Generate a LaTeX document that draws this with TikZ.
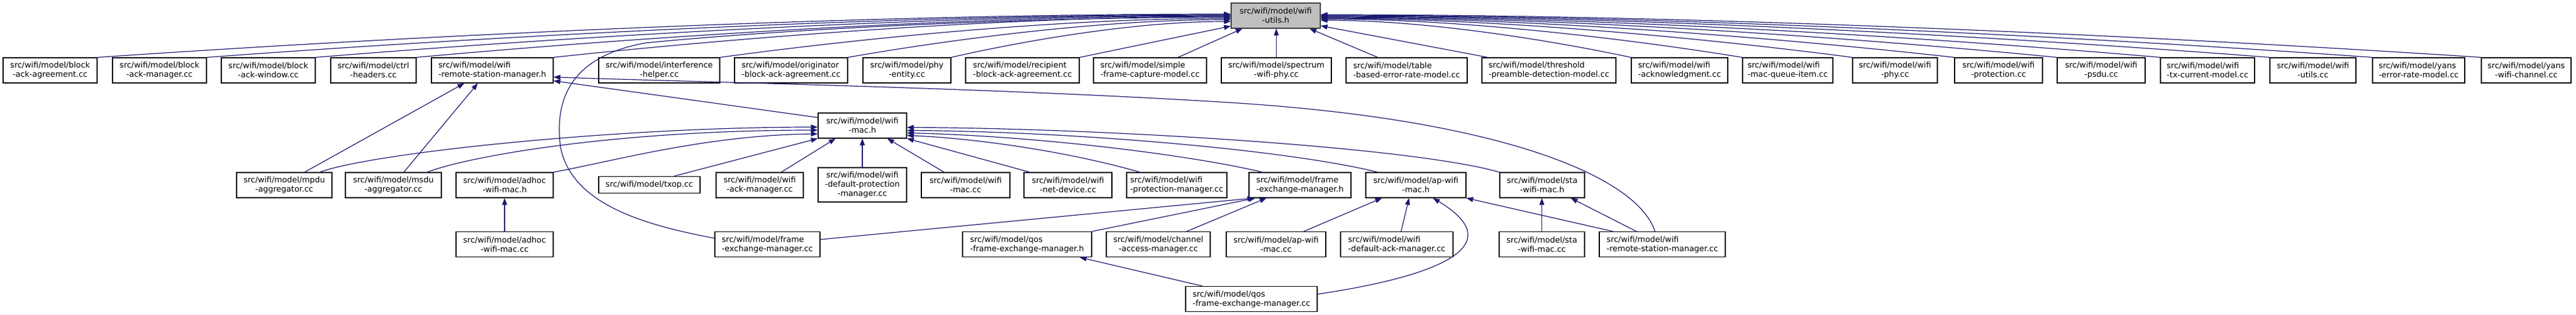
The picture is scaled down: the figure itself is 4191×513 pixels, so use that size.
\documentclass[tikz,border=0pt]{standalone}
\usepackage{fontspec}
\setmainfont{DejaVu Sans}
\usetikzlibrary{arrows.meta,calc}
\definecolor{mblue}{HTML}{191970}
\definecolor{rootgray}{HTML}{BFBFBF}
\definecolor{rootdraw}{HTML}{404040}
\tikzset{
  box/.style={draw=black, line width=1.2pt, fill=white, inner sep=0pt, align=center,
    font=\fontsize{13}{15}\selectfont},
  lbox/.style={box, align=left},
  rootbox/.style={box, fill=rootgray, draw=rootdraw},
  dep/.style={draw=mblue, line width=1.2pt, -{Triangle[length=11pt,width=8pt]}}
}
\begin{document}
\begin{tikzpicture}[x=1pt,y=-1pt]
\useasboundingbox (0,0) rectangle (4191,513);
% root
\node[rootbox, minimum width=145pt, minimum height=41pt] (root) at (2075.5,25.5) {src/wifi/model/wifi\\-utils.h};
% top row
\node[box, minimum width=153pt, minimum height=41pt] (bagr) at (81.5,114.5) {src/wifi/model/block\\-ack-agreement.cc};
\node[box, minimum width=153pt, minimum height=41pt] (bamg) at (259.5,114.5) {src/wifi/model/block\\-ack-manager.cc};
\node[box, minimum width=153pt, minimum height=41pt] (bawin) at (436.5,114.5) {src/wifi/model/block\\-ack-window.cc};
\node[box, minimum width=139pt, minimum height=41pt] (ctrl) at (607.5,114.5) {src/wifi/model/ctrl\\-headers.cc};
\node[lbox, minimum width=198pt, minimum height=41pt] (rsmh) at (801,114.5) {src/wifi/model/wifi\\-remote-station-manager.h};
\node[box, minimum width=197pt, minimum height=41pt] (interf) at (1072.5,114.5) {src/wifi/model/interference\\-helper.cc};
\node[lbox, minimum width=184pt, minimum height=41pt] (orig) at (1287,114.5) {src/wifi/model/originator\\-block-ack-agreement.cc};
\node[box, minimum width=143pt, minimum height=41pt] (phy) at (1475.5,114.5) {src/wifi/model/phy\\-entity.cc};
\node[lbox, minimum width=185pt, minimum height=41pt] (recip) at (1663.5,114.5) {src/wifi/model/recipient\\-block-ack-agreement.cc};
\node[lbox, minimum width=184pt, minimum height=41pt] (simple) at (1871,114.5) {src/wifi/model/simple\\-frame-capture-model.cc};
\node[box, minimum width=179pt, minimum height=41pt] (spectrum) at (2076.5,114.5) {src/wifi/model/spectrum\\-wifi-phy.cc};
\node[lbox, minimum width=197pt, minimum height=41pt] (table) at (2288.5,114.5) {src/wifi/model/table\\-based-error-rate-model.cc};
\node[lbox, minimum width=218pt, minimum height=41pt] (thresh) at (2520,114.5) {src/wifi/model/threshold\\-preamble-detection-model.cc};
\node[lbox, minimum width=157pt, minimum height=41pt] (ackn) at (2732.5,114.5) {src/wifi/model/wifi\\-acknowledgment.cc};
\node[lbox, minimum width=147pt, minimum height=41pt] (mqi) at (2908.5,114.5) {src/wifi/model/wifi\\-mac-queue-item.cc};
\node[box, minimum width=138pt, minimum height=41pt] (wphy) at (3083,114.5) {src/wifi/model/wifi\\-phy.cc};
\node[box, minimum width=143pt, minimum height=41pt] (wprot) at (3251.5,114.5) {src/wifi/model/wifi\\-protection.cc};
\node[box, minimum width=143pt, minimum height=41pt] (psdu) at (3418.5,114.5) {src/wifi/model/wifi\\-psdu.cc};
\node[lbox, minimum width=153pt, minimum height=41pt] (txcur) at (3591.5,114.5) {src/wifi/model/wifi\\-tx-current-model.cc};
\node[box, minimum width=140pt, minimum height=41pt] (wutil) at (3763,114.5) {src/wifi/model/wifi\\-utils.cc};
\node[lbox, minimum width=150pt, minimum height=41pt] (yerr) at (3935,114.5) {src/wifi/model/yans\\-error-rate-model.cc};
\node[box, minimum width=146pt, minimum height=41pt] (ychan) at (4110,114.5) {src/wifi/model/yans\\-wifi-channel.cc};
% wifi-mac.h
\node[box, minimum width=144pt, minimum height=41pt] (wmh) at (1403,204.5) {src/wifi/model/wifi\\-mac.h};
% row 3
\node[box, minimum width=155pt, minimum height=41pt] (mpdu) at (462.5,301.5) {src/wifi/model/mpdu\\-aggregator.cc};
\node[box, minimum width=156pt, minimum height=41pt] (msdu) at (640,301.5) {src/wifi/model/msdu\\-aggregator.cc};
\node[box, minimum width=158pt, minimum height=41pt] (adhocH) at (821,301.5) {src/wifi/model/adhoc\\-wifi-mac.h};
\node[box, minimum width=165pt, minimum height=27pt] (txop) at (1056.5,301) {src/wifi/model/txop.cc};
\node[box, minimum width=142pt, minimum height=41pt] (ackmgr) at (1236,301.5) {src/wifi/model/wifi\\-ack-manager.cc};
\node[box, minimum width=144pt, minimum height=56pt] (defprot) at (1403,301) {src/wifi/model/wifi\\-default-protection\\-manager.cc};
\node[box, minimum width=144pt, minimum height=41pt] (wmaccc) at (1571,301.5) {src/wifi/model/wifi\\-mac.cc};
\node[box, minimum width=143pt, minimum height=41pt] (netdev) at (1737.5,301.5) {src/wifi/model/wifi\\-net-device.cc};
\node[lbox, minimum width=163pt, minimum height=41pt] (protmgr) at (1914.5,301.5) {src/wifi/model/wifi\\-protection-manager.cc};
\node[lbox, minimum width=166pt, minimum height=41pt] (femh) at (2115,301.5) {src/wifi/model/frame\\-exchange-manager.h};
\node[box, minimum width=163pt, minimum height=41pt] (apmach) at (2303.5,301.5) {src/wifi/model/ap-wifi\\-mac.h};
\node[box, minimum width=138pt, minimum height=41pt] (stamach) at (2509,301.5) {src/wifi/model/sta\\-wifi-mac.h};
% row 4
\node[box, minimum width=158pt, minimum height=41pt] (adhocCC) at (821,398) {src/wifi/model/adhoc\\-wifi-mac.cc};
\node[lbox, minimum width=171pt, minimum height=41pt] (femcc) at (1248.5,398) {src/wifi/model/frame\\-exchange-manager.cc};
\node[lbox, minimum width=210pt, minimum height=41pt] (qosfemh) at (1671,398) {src/wifi/model/qos\\-frame-exchange-manager.h};
\node[box, minimum width=169pt, minimum height=41pt] (chacc) at (1884.5,398) {src/wifi/model/channel\\-access-manager.cc};
\node[box, minimum width=162pt, minimum height=41pt] (apmaccc) at (2076,398) {src/wifi/model/ap-wifi\\-mac.cc};
\node[lbox, minimum width=183pt, minimum height=41pt] (defack) at (2272.5,398) {src/wifi/model/wifi\\-default-ack-manager.cc};
\node[box, minimum width=139pt, minimum height=41pt] (stamaccc) at (2508.5,398) {src/wifi/model/sta\\-wifi-mac.cc};
\node[lbox, minimum width=205pt, minimum height=41pt] (rsmcc) at (2704.5,398) {src/wifi/model/wifi\\-remote-station-manager.cc};
% row 5
\node[lbox, minimum width=214pt, minimum height=41pt] (qosfemcc) at (2036,487) {src/wifi/model/qos\\-frame-exchange-manager.cc};

% ---- edges to root (left side)
\draw[dep] (bagr.north east) .. controls (619,62) and (1357,23) .. ($(root.west)+(0,-2.5)$);
\draw[dep] (bamg.north east) .. controls (753,62.5) and (1420,24) .. ($(root.west)+(0,-1.5)$);
\draw[dep] (bawin.north east) .. controls (886,63) and (1482,25) .. ($(root.west)+(0,-0.5)$);
\draw[dep] (ctrl.north east) .. controls (1009,63.4) and (1539,26) .. ($(root.west)+(0,0.5)$);
\draw[dep] (rsmh.north east) .. controls (1176,63.9) and (1617,27) .. ($(root.west)+(0,1.5)$);
\draw[dep] ($(femcc.west)+(0,-10)$) .. controls (1040,365) and (930,330) .. (912,240)
   .. controls (900,150) and (940,90) .. (1050,70)
   .. controls (1300,45) and (1700,28) .. ($(root.west)+(0,2.5)$);
\draw[dep] (interf.north east) .. controls (1379,65.2) and (1712,30) .. ($(root.west)+(0,4.5)$);
\draw[dep] (orig.north east) .. controls (1535,66.1) and (1785,32) .. ($(root.west)+(0,6.5)$);
\draw[dep] (phy.north east) .. controls (1661,67.5) and (1843,35) .. ($(root.west)+(0,9.5)$);
\draw[dep] (recip.north east) -- ($(root.west)+(0,17)$);
\draw[dep] ($(simple.north east)+(-47,0)$) -- ($(root.south west)+(19,0)$);
\draw[dep] (spectrum.north) -- (spectrum.north |- root.south);
% ---- edges to root (right side)
\draw[dep] ($(table.north west)+(52,0)$) -- ($(root.south east)+(-18,0)$);
\draw[dep] ($(thresh.north west)+(10,0)$) -- ($(root.east)+(0,16.5)$);
\draw[dep] (ackn.north west) .. controls (2527,66.6) and (2325,33) .. ($(root.east)+(0,7.5)$);
\draw[dep] (mqi.north west) .. controls (2663,65.6) and (2388,31) .. ($(root.east)+(0,5.5)$);
\draw[dep] (wphy.north west) .. controls (2798,65.2) and (2451,30) .. ($(root.east)+(0,4.5)$);
\draw[dep] (wprot.north west) .. controls (2922,64.8) and (2509,29) .. ($(root.east)+(0,3.5)$);
\draw[dep] (psdu.north west) .. controls (3047,64.3) and (2568,28) .. ($(root.east)+(0,2.5)$);
\draw[dep] (txcur.north west) .. controls (3173,63.9) and (2626,27) .. ($(root.east)+(0,1.5)$);
\draw[dep] (wutil.north west) .. controls (3307,63.4) and (2689,26) .. ($(root.east)+(0,0.5)$);
\draw[dep] (yerr.north west) .. controls (3432,63) and (2747,25) .. ($(root.east)+(0,-0.5)$);
\draw[dep] (ychan.north west) .. controls (3565,62.5) and (2809,24) .. ($(root.east)+(0,-1.5)$);

% ---- edges to wifi-remote-station-manager.h
\draw[dep] ($(mpdu.north)+(33,0)$) -- ($(rsmh.south west)+(54,0)$);
\draw[dep] ($(msdu.north)+(17,0)$) -- ($(rsmh.south west)+(76,0)$);
\draw[dep] ($(wmh.north west)+(0,8)$) -- ($(rsmh.south east)+(0,-4)$);
\draw[dep] ($(rsmcc.north)+(-12,0)$) .. controls (2665,290) and (2450,195) .. (2000,167)
   .. controls (1600,142) and (1100,133) .. ($(rsmh.east)+(0,11)$);

% ---- edges to wifi-mac.h
\draw[dep] ($(mpdu.north)+(58,0)$) .. controls (600,250) and (1000,207) .. ($(wmh.west)+(0,2.5)$);
\draw[dep] ($(msdu.north)+(55,0)$) .. controls (760,255) and (1000,212) .. ($(wmh.west)+(0,7.5)$);
\draw[dep] (adhocH.north east) .. controls (1000,262) and (1150,220) .. ($(wmh.west)+(0,13.5)$);
\draw[dep] ($(txop.north)+(40,0)$) -- (wmh.south west);
\draw[dep] ($(ackmgr.north)+(35,0)$) -- ($(wmh.south west)+(29,0)$);
\draw[dep] (defprot.north) -- (wmh.south);
\draw[dep] ($(wmaccc.north)+(-35,0)$) -- ($(wmh.south east)+(-32,0)$);
\draw[dep] ($(netdev.north west)+(10,0)$) -- (wmh.south east);
\draw[dep] ($(protmgr.north)+(-60,0)$) .. controls (1750,250) and (1600,226) .. ($(wmh.east)+(0,16)$);
\draw[dep] ($(femh.north west)+(22,0)$) .. controls (1950,255) and (1700,222) .. ($(wmh.east)+(0,12)$);
\draw[dep] ($(apmach.north west)+(20,0)$) .. controls (2100,245) and (1750,214) .. ($(wmh.east)+(0,8)$);
\draw[dep] (stamach.north west) .. controls (2300,240) and (1800,209) .. ($(wmh.east)+(0,3)$);

% ---- other edges
\draw[dep] (adhocCC.north) -- (adhocH.south);
\draw[dep] ($(femcc.east)+(0,-8)$) -- ($(femh.south west)+(9,0)$);
\draw[dep] (qosfemh.north east) -- ($(femh.south west)+(11,0)$);
\draw[dep] ($(chacc.north)+(46,0)$) -- ($(femh.south west)+(29,0)$);
\draw[dep] ($(apmaccc.north)+(45,0)$) -- ($(apmach.south west)+(27,0)$);
\draw[dep] ($(defack.north)+(7,0)$) -- ($(apmach.south west)+(71,0)$);
\draw[dep] ($(qosfemcc.east)+(0,-8)$) .. controls (2340,450) and (2460,400) .. ($(apmach.south west)+(110,0)$);
\draw[dep] ($(rsmcc.north west)+(23,0)$) -- (apmach.south east);
\draw[dep] (stamaccc.north) -- (stamaccc.north |- stamach.south);
\draw[dep] ($(rsmcc.north)+(-42,0)$) -- ($(stamach.south east)+(-23,0)$);
\draw[dep] ($(qosfemcc.north west)+(28,0)$) -- ($(qosfemh.south east)+(-20,0)$);
\end{tikzpicture}
\end{document}
